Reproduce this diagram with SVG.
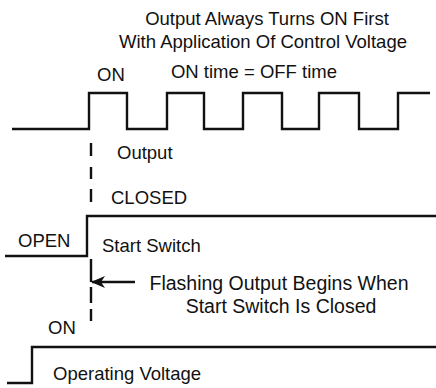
<svg xmlns="http://www.w3.org/2000/svg" width="436" height="388" viewBox="0 0 436 388">
<defs>
<style>
text{font-family:"Liberation Sans",Arial,sans-serif;font-size:18.5px;fill:#111}
text.n{font-size:19.5px}
.w{fill:none;stroke:#111;stroke-width:2.4;stroke-linejoin:miter}
.d{fill:none;stroke:#111;stroke-width:2.4}
</style>
<marker id="ah" markerWidth="14" markerHeight="12" refX="13" refY="6" orient="auto" markerUnits="userSpaceOnUse">
<path d="M0,0 L14,6 L0,12 L4,6 Z" fill="#111"/>
</marker>
</defs>
<rect width="436" height="388" fill="#fff"/>
<g id="title">
<text x="267" y="25" text-anchor="middle">Output Always Turns ON First</text>
<text x="263" y="48" text-anchor="middle">With Application Of Control Voltage</text>
<text x="254" y="78" text-anchor="middle">ON time = OFF time</text>
</g>
<g id="output">
<path class="w" d="M12,129 H89 V93 H127 V129 H167 V93 H204 V129 H243 V93 H282 V129 H319 V93 H359 V129 H398 V93 H430"/>
<text x="97" y="81">ON</text>
<text x="117" y="159">Output</text>
</g>
<g id="start-switch">
<path class="w" d="M5,256 H87 V216 H436"/>
<text x="18" y="247">OPEN</text>
<text x="111" y="204">CLOSED</text>
<text x="102" y="252">Start Switch</text>
</g>
<g id="operating-voltage">
<path class="w" d="M7,383 H32 V347 H436"/>
<text x="48" y="334">ON</text>
<text x="53" y="380">Operating Voltage</text>
</g>
<g id="connectors">
<path class="d" d="M91,143 V156 M91,167 V179 M91,189 V202 M91,259 V282 M91,287 V303 M91,309 V321"/>
<line x1="135" y1="282" x2="92" y2="282" stroke="#111" stroke-width="2.4" marker-end="url(#ah)"/>
</g>
<g id="note">
<text class="n" x="279" y="290" text-anchor="middle">Flashing Output Begins When</text>
<text class="n" x="281" y="313" text-anchor="middle">Start Switch Is Closed</text>
</g>
</svg>
